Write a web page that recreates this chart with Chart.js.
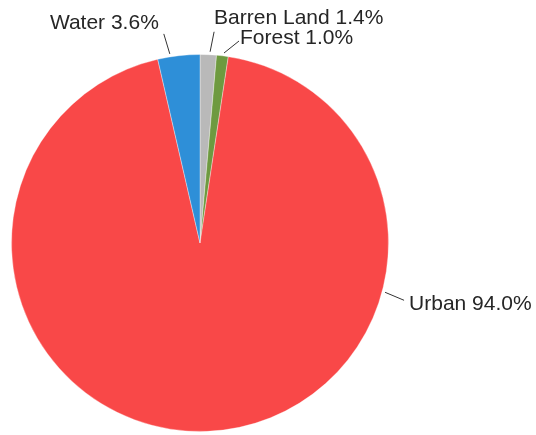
<!DOCTYPE html>
<html>
<head>
<meta charset="utf-8">
<script src="https://cdn.jsdelivr.net/npm/chart.js@4/dist/chart.umd.min.js"></script>
<style>
  html, body { margin: 0; padding: 0; background: #fff; }
  #wrap { width: 536px; height: 435px; position: relative; }
</style>
</head>
<body>
<div id="wrap"><canvas id="pie"></canvas></div>
<script>
// data, clockwise from 12 o'clock
var categorias = ['Barren Land', 'Forest', 'Urban', 'Water'];
var valores = [1.4, 1.0, 94.0, 3.6];
var cores = ['#b9b9b9', '#6e9a40', '#f94848', '#2e8fd8'];

// where each outer label sits: t = position inside the slice (0..1),
// (dx,dy) = end of leader line from slice edge, (tx,ty) = text offset from line end
var rotulosEstilo = [
    { t: 0.6, dx: 4, dy: -20, tx: 0, ty: -14, align: 'left' },
    { t: 0.6, dx: 15, dy: -12, tx: 1, ty: -3, align: 'left' },
    { t: 0.2845, dx: 19, dy: 8, tx: 5, ty: 4, align: 'left' },
    { t: 0.3, dx: -6, dy: -20, tx: -5, ty: -11, align: 'right' }
];

var rotulosExternos = {
    id: 'rotulosExternos',
    afterDatasetsDraw: function (chart) {
        var ctx = chart.ctx;
        var arcs = chart.getDatasetMeta(0).data;
        ctx.save();
        ctx.font = '21px "Liberation Sans", Arial, sans-serif';
        ctx.fillStyle = '#262626';
        ctx.strokeStyle = '#333';
        ctx.lineWidth = 1;
        ctx.textBaseline = 'middle';
        arcs.forEach(function (arc, i) {
            var p = arc.getProps(['x', 'y', 'startAngle', 'endAngle', 'outerRadius'], true);
            var est = rotulosEstilo[i];
            var ang = p.startAngle + (p.endAngle - p.startAngle) * est.t;
            var r = p.outerRadius + 3;
            var x0 = p.x + Math.cos(ang) * r;
            var y0 = p.y + Math.sin(ang) * r;
            var x1 = x0 + est.dx;
            var y1 = y0 + est.dy;
            ctx.beginPath();
            ctx.moveTo(x0, y0);
            ctx.lineTo(x1, y1);
            ctx.stroke();
            ctx.textAlign = est.align;
            var texto = categorias[i] + ' ' + valores[i].toFixed(1) + '%';
            ctx.fillText(texto, x1 + est.tx, y1 + est.ty);
        });
        ctx.restore();
    }
};

var meuGrafico = new Chart(document.getElementById('pie'), {
    type: 'pie',
    data: {
        labels: categorias,
        datasets: [{
            data: valores,
            backgroundColor: cores,
            borderColor: 'rgba(255,255,255,0.35)',
            borderWidth: 1,
            hoverOffset: 0
        }]
    },
    options: {
        responsive: true,
        maintainAspectRatio: false,
        animation: false,
        layout: { padding: { left: 11, top: 54, right: 147, bottom: 3 } },
        plugins: {
            legend: { display: false },
            tooltip: { enabled: false }
        }
    },
    plugins: [rotulosExternos]
});
</script>
</body>
</html>
